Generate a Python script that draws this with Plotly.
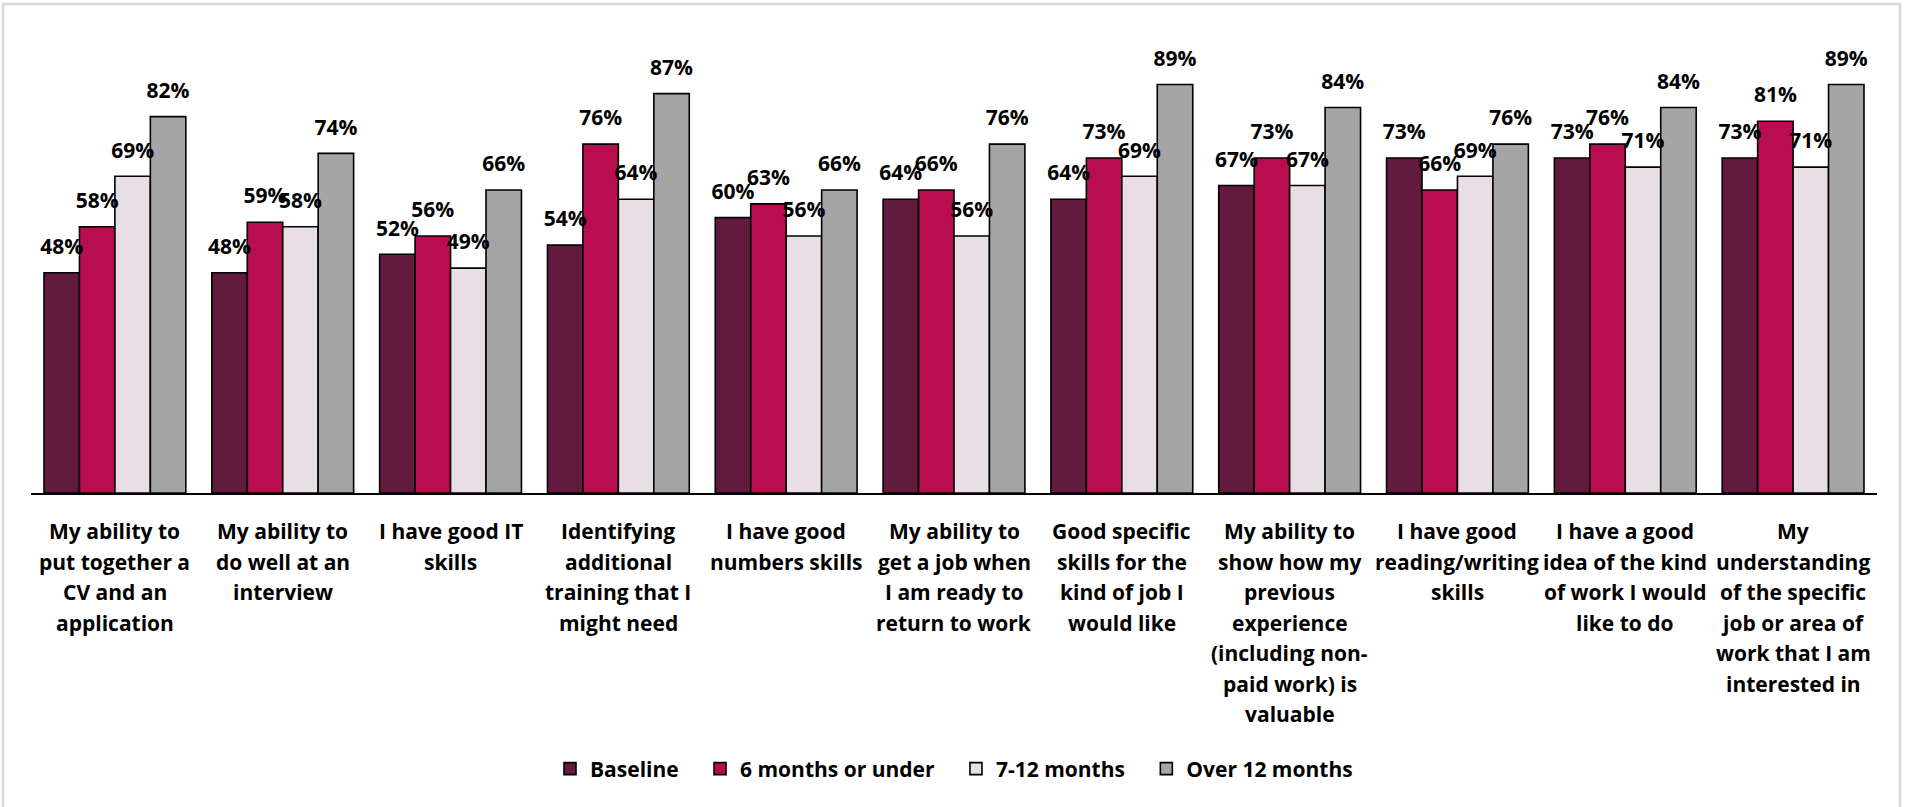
import plotly.graph_objects as go

# ---------------- data ----------------
category_lines = [
    ["My ability to", "put together a", "CV and an", "application"],
    ["My ability to", "do well at an", "interview"],
    ["I have good IT", "skills"],
    ["Identifying", "additional", "training that I", "might need"],
    ["I have good", "numbers skills"],
    ["My ability to", "get a job when", "I am ready to", "return to work"],
    ["Good specific", "skills for the", "kind of job I", "would like"],
    ["My ability to", "show how my", "previous", "experience", "(including non-", "paid work) is", "valuable"],
    ["I have good", "reading/writing", "skills"],
    ["I have a good", "idea of the kind", "of work I would", "like to do"],
    ["My", "understanding", "of the specific", "job or area of", "work that I am", "interested in"],
]
categories = [" ".join(l) for l in category_lines]

series_names = ["Baseline", "6 months or under", "7-12 months", "Over 12 months"]
baseline = [48, 48, 52, 54, 60, 64, 64, 67, 73, 73, 73]
six_months = [58, 59, 56, 76, 63, 66, 73, 73, 66, 76, 81]
seven_twelve = [69, 58, 49, 64, 56, 56, 69, 67, 69, 71, 71]
over_twelve = [82, 74, 66, 87, 66, 76, 89, 84, 76, 84, 89]
series_values = [baseline, six_months, seven_twelve, over_twelve]

colors = ["#621B3F", "#B80E4F", "#E9DEE6", "#A5A5A5"]

FONT = "Open Sans"
FS = 21
W, H = 1905, 807
ML, MR, MT, MB = 31, 28, 34, 314
GAP = 0.155

fig = go.Figure()

n_series = len(series_names)
for k, (name, vals, col) in enumerate(zip(series_names, series_values, colors)):
    # extra trailing spacing between legend entries (as in the reference)
    legend_label = name + ("\u00a0\u00a0\u00a0" if k < n_series - 1 else "")
    fig.add_trace(go.Bar(
        name=legend_label, x=categories, y=[v / 100 for v in vals],
        marker=dict(color=col, line=dict(color="#000000", width=1.6)),
        hoverinfo="skip",
    ))

for name, vals in zip(series_names, series_values):
    fig.add_trace(go.Scatter(
        x=categories, y=[v / 100 for v in vals],
        text=[f"{v}%" for v in vals],
        mode="markers+text", textposition="top center",
        marker=dict(size=20, opacity=0),
        textfont=dict(family=FONT, size=FS, color="#000000", weight="bold"),
        showlegend=False, hoverinfo="skip", cliponaxis=False,
    ))

annotations = []
for cat, lines in zip(categories, category_lines):
    for j, line in enumerate(lines):
        annotations.append(dict(
            x=cat, xref="x", y=0, yref="paper", yanchor="middle", xanchor="center",
            yshift=-(38 + 30.5 * j), text=line, showarrow=False,
            font=dict(family=FONT, size=FS, color="#000000", weight="bold"),
        ))

plot_w = W - ML - MR
plot_h = H - MT - MB
fig.add_shape(
    type="rect", xref="paper", yref="paper",
    x0=(3 - ML) / plot_w, x1=(1900 - ML) / plot_w,
    y0=-(H + 10 - MT - plot_h) / plot_h, y1=1 + (MT - 4) / plot_h,
    line=dict(color="#D9D9D9", width=2.5), layer="below",
)

fig.update_layout(
    width=W, height=H, autosize=False,
    margin=dict(l=ML, r=MR, t=MT, b=MB, pad=0),
    paper_bgcolor="#FFFFFF", plot_bgcolor="#FFFFFF",
    barmode="group", bargap=GAP, bargroupgap=0,
    scattermode="group", scattergap=GAP,
    annotations=annotations,
    xaxis=dict(showticklabels=False, showline=True, linecolor="#000000", linewidth=2,
               ticks="", showgrid=False, zeroline=False, fixedrange=True),
    yaxis=dict(range=[0, 1], visible=False, showgrid=False, zeroline=False, fixedrange=True),
    legend=dict(orientation="h", x=0.5, xanchor="center", y=-(769 - MT - plot_h) / plot_h,
                yanchor="middle", font=dict(family=FONT, size=FS, color="#000000", weight="bold"),
                itemwidth=30, traceorder="normal"),
    showlegend=True,
)

fig.write_html(
    "out.html",
    config={"displayModeBar": False},
    post_script="document.body.style.margin='0';document.body.style.overflow='hidden';",
)
